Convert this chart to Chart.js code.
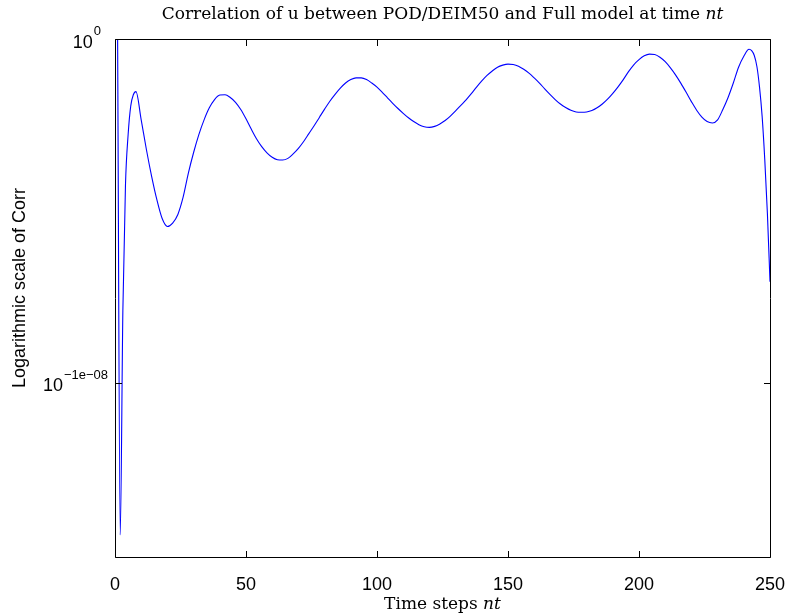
<!DOCTYPE html>
<html>
<head>
<meta charset="utf-8">
<script src="https://cdn.jsdelivr.net/npm/chart.js@4.4.1/dist/chart.umd.min.js"></script>
<style>
  html, body { margin: 0; padding: 0; background: #ffffff; }
  #wrap { width: 789px; height: 614px; position: relative; }
</style>
</head>
<body>
<div id="wrap"><canvas id="c" width="789" height="614"></canvas></div>
<script>
// Time steps (x) and log10(Corr) in units of 1e-8 (y)
const timeSteps = [1, 2, 3, 4, 5, 6, 7, 8,
  10, 12, 14, 16, 18, 20, 22, 24, 26, 28, 30, 32, 34, 36, 38, 40, 42, 44, 46, 48, 50,
  52, 54, 56, 58, 60, 62, 64, 66, 68, 70, 72, 74, 76, 78, 80, 82, 84, 86, 88, 90, 92,
  94, 96, 98, 100, 102, 104, 106, 108, 110, 112, 114, 116, 118, 120, 122, 124, 126, 128,
  130, 132, 134, 136, 138, 140, 142, 144, 146, 148, 150, 152, 154, 156, 158, 160, 162,
  164, 166, 168, 170, 172, 174, 176, 178, 180, 182, 184, 186, 188, 190, 192, 194, 196,
  198, 200, 202, 204, 206, 208, 210, 212, 214, 216, 218, 220, 222, 224, 226, 228, 230,
  232, 234, 236, 238, 240, 242, 243, 244, 245, 246, 247, 248, 249, 250];
const logCorr = [0, -1.442, -0.79, -0.424, -0.279, -0.195, -0.162, -0.153,
  -0.235, -0.322, -0.40, -0.468, -0.522, -0.545, -0.535, -0.51, -0.46, -0.39, -0.33,
  -0.278, -0.235, -0.2, -0.176, -0.163, -0.162, -0.17, -0.184, -0.205, -0.232,
  -0.262, -0.29, -0.313, -0.331, -0.344, -0.351, -0.352, -0.347, -0.334, -0.318, -0.298,
  -0.275, -0.252, -0.228, -0.204, -0.181, -0.161, -0.143, -0.128, -0.118, -0.113,
  -0.113, -0.118, -0.128, -0.140, -0.155, -0.171, -0.187, -0.202, -0.216, -0.229, -0.240,
  -0.249, -0.255, -0.257, -0.254, -0.247, -0.237, -0.224,
  -0.209, -0.193, -0.177, -0.159, -0.14, -0.122, -0.106, -0.093, -0.082, -0.076, -0.073,
  -0.074, -0.079, -0.088, -0.099, -0.113, -0.128,
  -0.145, -0.161, -0.176, -0.189, -0.199, -0.207, -0.212, -0.213, -0.212, -0.208, -0.200,
  -0.189, -0.175, -0.158, -0.139, -0.118, -0.095,
  -0.075, -0.06, -0.049, -0.044, -0.045, -0.053, -0.066, -0.084, -0.105, -0.129, -0.155,
  -0.182, -0.207, -0.227, -0.240, -0.244, -0.235,
  -0.205, -0.17, -0.128, -0.082, -0.05, -0.03, -0.034, -0.048, -0.08, -0.14, -0.225,
  -0.35, -0.506, -0.706];

const xTicks = [0, 50, 100, 150, 200, 250];
const xTickLabels = ['0', '50', '100', '150', '200', '250'];
const yTicks = [0, -1];
const yTickBase = ['10', '10'];
const yTickExp = ['0', '\u22121e\u221208'];
const yMin = -1.506, yMax = 0;
const titleText = 'Correlation of u between POD/DEIM50 and Full model at time ';
const titleItalic = 'nt';
const xTitleText = 'Time steps ';
const xTitleItalic = 'nt';
const yTitleText = 'Logarithmic scale of Corr';

const points = timeSteps.map((t, i) => ({ x: t, y: logCorr[i] }));

const SANS = '"Liberation Sans", Arial, Helvetica, sans-serif';
const SERIF = '"DejaVu Serif", serif';

function drawMixed(ctx, parts, cx, y) {
  let total = 0;
  parts.forEach(p => { ctx.font = p.font; p.w = ctx.measureText(p.text).width; total += p.w; });
  let x = cx - total / 2;
  ctx.textAlign = 'left';
  parts.forEach(p => { ctx.font = p.font; ctx.fillText(p.text, x, y); x += p.w; });
}

const frame = {
  id: 'frame',
  afterDraw(chart) {
    const ctx = chart.ctx;
    const a = chart.chartArea;
    const xs = chart.scales.x, ys = chart.scales.y;
    const L = Math.round(a.left) + 0.5, R = Math.round(a.right) + 0.5;
    const T = Math.round(a.top) + 0.5, B = Math.round(a.bottom) + 0.5;
    ctx.save();
    ctx.strokeStyle = '#000000';
    ctx.lineWidth = 1;
    ctx.beginPath();
    ctx.rect(L, T, R - L, B - T);
    ctx.stroke();
    const tl = 6.5;
    ctx.beginPath();
    xTicks.forEach(v => {
      const px = Math.round(xs.getPixelForValue(v)) + 0.5;
      ctx.moveTo(px, B); ctx.lineTo(px, B - tl);
      ctx.moveTo(px, T); ctx.lineTo(px, T + tl);
    });
    yTicks.forEach(v => {
      const py = Math.round(ys.getPixelForValue(v)) + 0.5;
      ctx.moveTo(L, py); ctx.lineTo(L + tl, py);
      ctx.moveTo(R, py); ctx.lineTo(R - tl, py);
    });
    ctx.stroke();

    ctx.fillStyle = '#000000';
    ctx.font = '18px ' + SANS;
    ctx.textAlign = 'center';
    ctx.textBaseline = 'alphabetic';
    xTicks.forEach((v, i) => {
      ctx.fillText(xTickLabels[i], xs.getPixelForValue(v), B + 32);
    });
    yTicks.forEach((v, i) => {
      const py = ys.getPixelForValue(v);
      ctx.font = '13px ' + SANS;
      const we = ctx.measureText(yTickExp[i]).width;
      ctx.font = '18px ' + SANS;
      const wb = ctx.measureText(yTickBase[i]).width;
      const right = i === 0 ? 101 : 108;
      const xb = right - we - wb - 1;
      ctx.textAlign = 'left';
      ctx.fillText(yTickBase[i], xb, py + 8.5);
      ctx.font = '13px ' + SANS;
      ctx.fillText(yTickExp[i], xb + wb + 1, py - 4);
    });
    ctx.textBaseline = 'alphabetic';
    drawMixed(ctx, [
      { text: titleText, font: '17px ' + SERIF },
      { text: titleItalic, font: 'italic 17px ' + SERIF }
    ], (a.left + a.right) / 2, 19);
    drawMixed(ctx, [
      { text: xTitleText, font: '17px ' + SERIF },
      { text: xTitleItalic, font: 'italic 17px ' + SERIF }
    ], (a.left + a.right) / 2, B + 51);
    ctx.save();
    ctx.translate(25, 288);
    ctx.rotate(-Math.PI / 2);
    ctx.font = '18px ' + SANS;
    ctx.textAlign = 'center';
    ctx.fillText(yTitleText, 0, 0);
    ctx.restore();
    ctx.restore();
  }
};

new Chart(document.getElementById('c'), {
  type: 'line',
  data: {
    datasets: [{
      data: points,
      borderColor: '#0000ff',
      borderWidth: 1.1,
      pointRadius: 0,
      fill: false,
      cubicInterpolationMode: 'monotone'
    }]
  },
  options: {
    responsive: false,
    animation: false,
    events: [],
    layout: { padding: { left: 115, right: 19, top: 39, bottom: 57 } },
    plugins: { legend: { display: false }, title: { display: false }, tooltip: { enabled: false } },
    scales: {
      x: { type: 'linear', min: 0, max: 250, display: false },
      y: { type: 'linear', min: yMin, max: yMax, display: false }
    }
  },
  plugins: [frame]
});
</script>
</body>
</html>
